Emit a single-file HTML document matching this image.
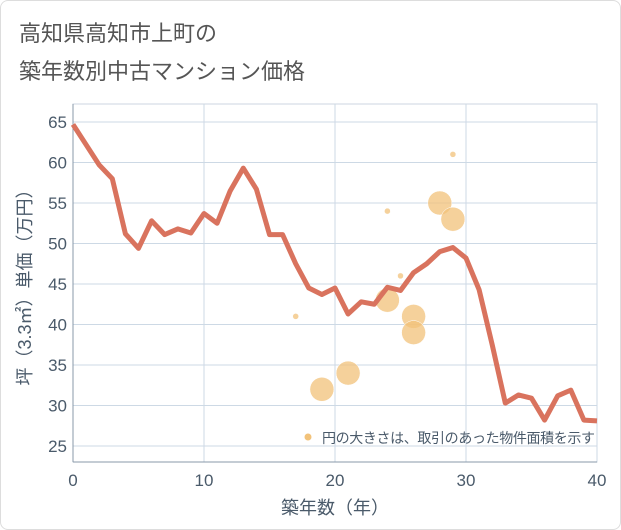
<!DOCTYPE html>
<html><head><meta charset="utf-8"><style>
body{margin:0;background:#fff;}
#wrap{position:relative;width:619px;height:528px;border:1px solid #ddd;border-radius:8px;overflow:hidden;font-family:"Liberation Sans","Noto Sans CJK JP",sans-serif;}
.title{position:absolute;left:18px;font-size:22px;color:#555;}
</style></head><body>
<div id="wrap">
<div class="title" style="top:15px">高知県高知市上町の</div>
<div class="title" style="top:53px">築年数別中古マンション価格</div>
<svg id="chart" width="621" height="530" style="position:absolute;left:-1px;top:-1px"></svg>
</div>
<script>
const lineYears=[0,1,2,3,4,5,6,7,8,9,10,11,12,13,14,15,16,17,18,19,20,21,22,23,24,25,26,27,28,29,30,31,32,33,34,35,36,37,38,39,40];
const linePrices=[64.7,62.2,59.7,58,51.2,49.4,52.8,51.1,51.8,51.3,53.7,52.5,56.5,59.3,56.7,51.1,51.1,47.5,44.5,43.7,44.5,41.3,42.8,42.5,44.6,44.2,46.4,47.5,49,49.5,48.2,44.3,37.5,30.3,31.3,30.9,28.2,31.2,31.9,28.2,28.1];
const bubbleYears=[17,19,21,24,24,25,26,26,28,29,29];
const bubblePrices=[41,32,34,54,43,46,41,39,55,53,61];
const bubbleSizes=[3,12,12,3,12,3,12,12,12,12,3];
const xTicks=[0,10,20,30,40];
const yTicks=[25,30,35,40,45,50,55,60,65];
const NS="http://www.w3.org/2000/svg";
const svg=document.getElementById('chart');
const L=73,R=597,T=104,B=462;
const xs=v=>L+(v-0)/40*(R-L);
const ys=v=>122+(65-v)*8.1;
function mk(t,a,p){const e=document.createElementNS(NS,t);for(const k in a)e.setAttribute(k,a[k]);(p||svg).appendChild(e);return e;}
const frame=mk('rect',{x:L,y:T,width:R-L,height:B-T,fill:'none',stroke:'#ccd6e0'});


yTicks.forEach(v=>{
 const g=mk('line',{x1:L,x2:R,y1:ys(v),y2:ys(v),stroke:'#cdd9e5'});
 
 
 const t=mk('text',{x:L-6,y:ys(v)+6,'text-anchor':'end','font-size':17,fill:'#4a5a6a'});
 t.textContent=v;
 
 
});
xTicks.forEach(v=>{
 const g=mk('line',{x1:xs(v),x2:xs(v),y1:T,y2:B,stroke:'#cdd9e5'});
 
 
 const t=mk('text',{x:xs(v),y:486,'text-anchor':'middle','font-size':17,fill:'#4a5a6a'});
 t.textContent=v;
 
 
});
const ax=mk('line',{x1:L,x2:L,y1:T,y2:B,stroke:'#8899aa'});


const bx=mk('line',{x1:L,x2:R,y1:B,y2:B,stroke:'#8899aa'});


bubbleYears.forEach((y,i)=>{
 const c=mk('circle',{cx:xs(y),cy:ys(bubblePrices[i]),r:bubbleSizes[i],fill:'#f2c27a','fill-opacity':0.75,stroke:'#fff','stroke-width':0.5});
 
 
});
const pl=mk('polyline',{points:lineYears.map((y,i)=>xs(y)+','+ys(linePrices[i])).join(' '),fill:'none',stroke:'#d9735e','stroke-width':5,'stroke-linejoin':'round'});


const lc=mk('circle',{cx:308,cy:437,r:3.5,fill:'#f2c27a'});


const lt=mk('text',{x:322,y:443,'font-size':14,fill:'#4a5a6a',textLength:273});
lt.textContent='円の大きさは、取引のあった物件面積を示す';


const xt=mk('text',{x:335,y:514,'text-anchor':'middle','font-size':18,fill:'#4a5a6a'});
xt.textContent='築年数（年）';


const yt=mk('text',{x:0,y:0,'text-anchor':'middle','font-size':18,fill:'#4a5a6a',transform:'translate(31,283) rotate(-90)'});
yt.textContent='坪（3.3㎡）単価（万円）';


</script>
</body></html>
